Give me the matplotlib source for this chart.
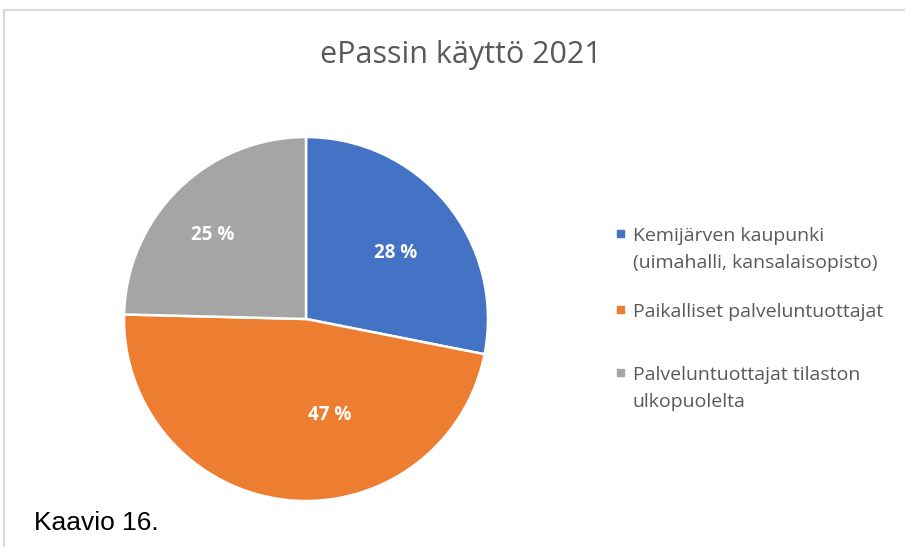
import matplotlib.pyplot as plt
from matplotlib.patches import Rectangle
from matplotlib.lines import Line2D

# data
categories = ["Kemijärven kaupunki\n(uimahalli, kansalaisopisto)",
              "Paikalliset palveluntuottajat",
              "Palveluntuottajat tilaston\nulkopuolelta"]
shares = [28.1, 47.3, 24.6]
colors = ["#4472C4", "#ED7D31", "#A5A5A5"]
title = "ePassin käyttö 2021"
caption = "Kaavio 16."

W, H = 905, 547
fig = plt.figure(figsize=(W / 100, H / 100), dpi=100)
fig.patch.set_facecolor("white")

def fx(px):
    return px / W

def fy(py):
    # pixel rows from the top -> figure fraction from the bottom
    return 1 - py / H

# chart frame (only top and left edges visible in the crop)
fig.add_artist(Line2D([fx(4), 1], [fy(10), fy(10)], color="#d9d9d9", lw=1.5))
fig.add_artist(Line2D([fx(4), fx(4)], [fy(10), 0], color="#d9d9d9", lw=1.5))

# pie
cx, cy, r = 306, 319, 182
ax = fig.add_axes([fx(cx - r), fy(cy + r), 2 * r / W, 2 * r / H])
wedges, texts, autotexts = ax.pie(
    shares, colors=colors, startangle=90, counterclock=False,
    autopct="%.0f %%", radius=1,
    wedgeprops=dict(edgecolor="white", linewidth=1.8),
    textprops=dict(color="white", fontsize=13.5, fontweight="bold",
                   family="Open Sans"))
ax.set_xlim(-1, 1)
ax.set_ylim(-1, 1)
ax.axis("off")

# label placement like the original (not all at the same radius)
label_pos = [(0.49, 0.36), (0.13, -0.53), (-0.51, 0.46)]
for t, p in zip(autotexts, label_pos):
    t.set_position(p)
    t.set_ha("center")
    t.set_va("center")

fig.text(fx(461), fy(63), title, ha="center", va="baseline",
         fontsize=22, color="#595959", family="Open Sans")

# legend drawn by hand to keep Excel's uneven spacing
baselines = [[241, 268], [317], [380, 407]]
for cat, col, bl in zip(categories, colors, baselines):
    fig.add_artist(Rectangle((fx(617), fy(bl[0] - 4)), 7 / W, 7 / H,
                             color=col, transform=fig.transFigure))
    for line, y in zip(cat.split("\n"), bl):
        fig.text(fx(633), fy(y), line, ha="left", va="baseline",
                 fontsize=14, color="#595959", family="Open Sans")

fig.text(fx(34), fy(530), caption, ha="left", va="baseline",
         fontsize=19, color="black", family="Liberation Sans")

fig.savefig("out.png", dpi=100)
